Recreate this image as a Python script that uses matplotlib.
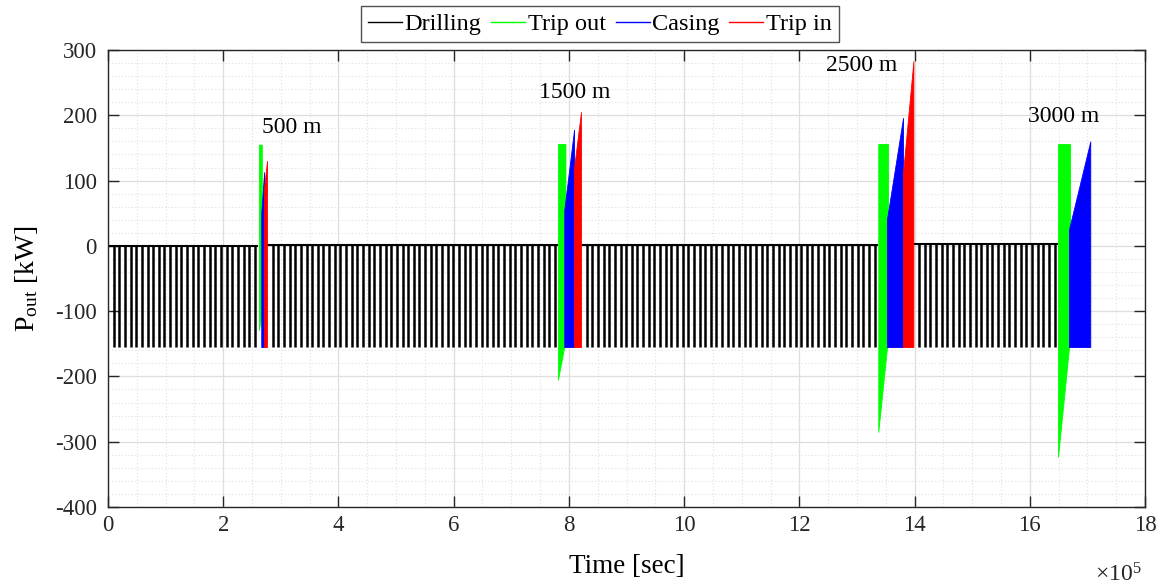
import numpy as np
import matplotlib.pyplot as plt
from matplotlib.lines import Line2D
from matplotlib.ticker import MultipleLocator, FuncFormatter

plt.rcParams['font.family'] = ['Liberation Serif', 'DejaVu Serif']
plt.rcParams['mathtext.fontset'] = 'custom'
plt.rcParams['mathtext.rm'] = 'Liberation Serif'
plt.rcParams['axes.unicode_minus'] = False

# drilling segments (time in s, power in kW)
drill_start = [0.0, 2.76e5, 8.21e5, 13.98e5]
drill_end = [2.60e5, 7.81e5, 13.37e5, 16.49e5]
drill_top = [0.5, 1.0, 2.0, 3.0]
drill_low = -155
drill_period = 9.8e3

# trip out blocks
trip_out_t0 = [2.62e5, 7.81e5, 13.37e5, 16.49e5]
trip_out_t1 = [2.67e5, 7.94e5, 13.54e5, 16.70e5]
trip_out_top = [155, 156, 156, 156]
trip_out_low0 = [-129, -205, -285, -323]
trip_out_low1 = [-100, -145, -140, -139]

# casing blocks
casing_t0 = [2.66e5, 7.92e5, 13.52e5, 16.68e5]
casing_t1 = [2.71e5, 8.09e5, 13.80e5, 17.05e5]
casing_up0 = [50, 55, 40, 25]
casing_up1 = [113, 178, 196, 160]
casing_low = -155

# trip in blocks (none after 3000 m)
trip_in_t0 = [2.71e5, 8.09e5, 13.80e5]
trip_in_t1 = [2.76e5, 8.21e5, 13.98e5]
trip_in_up0 = [90, 120, 112]
trip_in_up1 = [130, 205, 283]
trip_in_low = -155

depth_labels = ['500 m', '1500 m', '2500 m', '3000 m']
depth_x = [3.19e5, 8.10e5, 13.08e5, 16.58e5]
depth_y = [182, 235, 277, 198]

GREEN = (0, 1, 0)
BLUE = (0, 0, 1)
RED = (1, 0, 0)

fig = plt.figure(figsize=(11.58, 5.86), dpi=100)
ax = fig.add_axes([108 / 1158, 1 - 507 / 586, 1037 / 1158, 457 / 586])

# drilling: short pulses down to -155 kW
for s, e, top in zip(drill_start, drill_end, drill_top):
    pulses = np.arange(s + drill_period, e, drill_period)
    ax.vlines(pulses, drill_low, top, color='k', lw=1.8, zorder=2)
    ax.hlines(top, s, e, color='k', lw=1.5, zorder=2)

for i in range(len(trip_out_t0)):
    ax.fill_between([trip_out_t0[i], trip_out_t1[i]],
                    [trip_out_low0[i], trip_out_low1[i]],
                    [trip_out_top[i], trip_out_top[i]],
                    facecolor=GREEN, edgecolor=GREEN, lw=0.6, zorder=3)

for i in range(len(casing_t0)):
    ax.fill_between([casing_t0[i], casing_t1[i]],
                    [casing_low, casing_low],
                    [casing_up0[i], casing_up1[i]],
                    facecolor=BLUE, edgecolor=BLUE, lw=0.6, zorder=4)

for i in range(len(trip_in_t0)):
    ax.fill_between([trip_in_t0[i], trip_in_t1[i]],
                    [trip_in_low, trip_in_low],
                    [trip_in_up0[i], trip_in_up1[i]],
                    facecolor=RED, edgecolor=RED, lw=0.6, zorder=5)

for lab, x, y in zip(depth_labels, depth_x, depth_y):
    ax.text(x, y, lab, ha='center', va='center', fontsize=17, zorder=6)

ax.set_xlim(0, 18e5)
ax.set_ylim(-400, 300)
ax.xaxis.set_major_locator(MultipleLocator(2e5))
ax.xaxis.set_minor_locator(MultipleLocator(0.5e5))
ax.yaxis.set_major_locator(MultipleLocator(100))
ax.yaxis.set_minor_locator(MultipleLocator(20))
ax.xaxis.set_major_formatter(FuncFormatter(lambda v, p: f'{v / 1e5:g}'))

ax.grid(which='major', color='0.87', lw=0.9, zorder=0)
ax.grid(which='minor', color='0.88', lw=0.8, ls=(0, (1, 2)), zorder=0)
ax.set_axisbelow(True)
ax.tick_params(which='major', direction='in', length=8, width=1.0,
               top=True, right=True, labelsize=16.5, colors='0.15')
ax.tick_params(axis='x', which='major', pad=6)
ax.tick_params(axis='y', which='major', pad=8)
ax.tick_params(which='minor', length=0)
for sp in ax.spines.values():
    sp.set_linewidth(1.0)
    sp.set_color('0.15')

ax.set_xlabel('Time [sec]', fontsize=19.5, labelpad=13)
ax.set_ylabel(r'$\mathregular{P_{out}}$ [kW]', fontsize=20, labelpad=11)
fig.text(1118 / 1158, 1 - 575 / 586, r'$\times\mathregular{10^5}$',
         fontsize=17, ha='center', va='center', color='0.15')

handles = [Line2D([], [], color=c, lw=1.0) for c in ['k', GREEN, BLUE, RED]]
fig.legend(handles, ['Drilling', 'Trip out', 'Casing', 'Trip in'],
           loc='center', bbox_to_anchor=(600 / 1158, 1 - 24 / 586), ncol=4,
           fontsize=17.5, frameon=True, fancybox=False, edgecolor='0.15',
           handlelength=1.4, handletextpad=0.1, columnspacing=0.4,
           borderpad=0.3, borderaxespad=0)

fig.savefig('out.png', dpi=100)
